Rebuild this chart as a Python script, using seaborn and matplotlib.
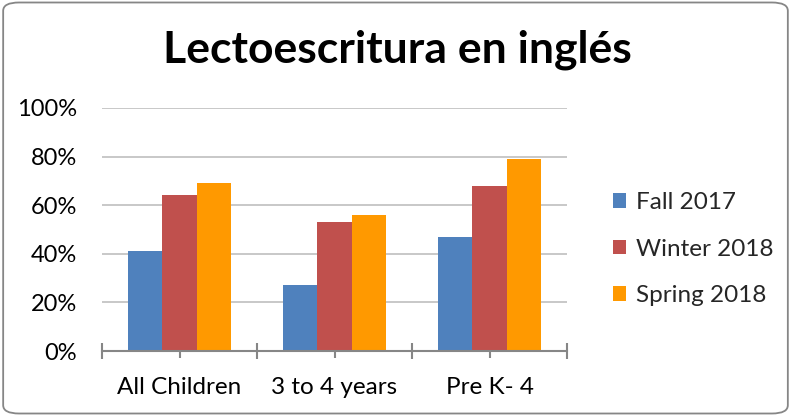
import matplotlib
matplotlib.use("Agg")
import matplotlib.pyplot as plt
import seaborn as sns
import pandas as pd
from matplotlib.patches import FancyBboxPatch
from matplotlib.ticker import FixedLocator, PercentFormatter

categories = ["All Children", "3 to 4 years", "Pre K- 4"]
series = ["Fall 2017", "Winter 2018", "Spring 2018"]
fall_2017 = [41, 27, 47]
winter_2018 = [64, 53, 68]
spring_2018 = [69, 56, 79]
colors = ["#4F81BD", "#C0504D", "#FF9900"]
title = "Lectoescritura en inglés"

rows = []
for s, vals in zip(series, [fall_2017, winter_2018, spring_2018]):
    for c, v in zip(categories, vals):
        rows.append({"category": c, "series": s, "value": v / 100})
df = pd.DataFrame(rows)

sns.set_theme(style="white")
plt.rcParams['font.family'] = ['Lato', 'DejaVu Sans']

fig = plt.figure(figsize=(7.91, 4.16), dpi=100)
ax = fig.add_axes([102/791, 1-351/416, (567-102)/791, (351-108)/416])

sns.barplot(data=df, x="category", y="value", hue="series", palette=colors,
            width=0.665, gap=0, ax=ax, saturation=1, edgecolor="none", linewidth=0)

ax.set_ylim(0, 1)
ax.set_xlim(-0.5, 2.5)
ax.yaxis.set_major_locator(FixedLocator([0, 0.2, 0.4, 0.6, 0.8, 1.0]))
ax.yaxis.set_major_formatter(PercentFormatter(1.0, decimals=0))
ax.grid(axis="y", color="#BFBFBF", linewidth=1.2)
ax.set_axisbelow(True)
for side in ["left", "right", "top"]:
    ax.spines[side].set_visible(False)
ax.spines["bottom"].set_color("#868686")
ax.spines["bottom"].set_linewidth(1.5)
ax.set_xlabel("")
ax.set_ylabel("")

ax.xaxis.set_major_locator(FixedLocator([-0.5, 0.5, 1.5, 2.5]))
ax.set_xticklabels([], minor=False)
ax.set_xticks([0, 1, 2], minor=True)
ax.set_xticklabels(categories, minor=True, fontsize=17.5)
ax.tick_params(axis="x", which="both", direction="inout", length=11, width=1.5,
               color="#868686", bottom=True, pad=14)
ax.tick_params(axis="x", which="minor", length=10)
ax.tick_params(axis="y", length=0, labelsize=17, pad=18)
for lbl in ax.get_yticklabels() + ax.get_xticklabels(minor=True):
    lbl.set_color("#000000")

leg = ax.legend(loc="center left", bbox_to_anchor=(591/791, 1-249/416),
                bbox_transform=fig.transFigure, frameon=False, fontsize=17.5,
                handlelength=0.55, handleheight=0.55, handletextpad=0.4,
                labelspacing=1.05)

fig.text(397/791, 1-50/416, title, ha="center", va="center",
         fontsize=32, fontweight="bold", color="#000000")

border = FancyBboxPatch((0.004, 0.006), 0.992, 0.988,
                        boxstyle="round,pad=0,rounding_size=0.02",
                        transform=fig.transFigure, fill=False,
                        edgecolor="#868686", linewidth=1.3)
fig.patches.append(border)

fig.savefig("out.png", dpi=100)
